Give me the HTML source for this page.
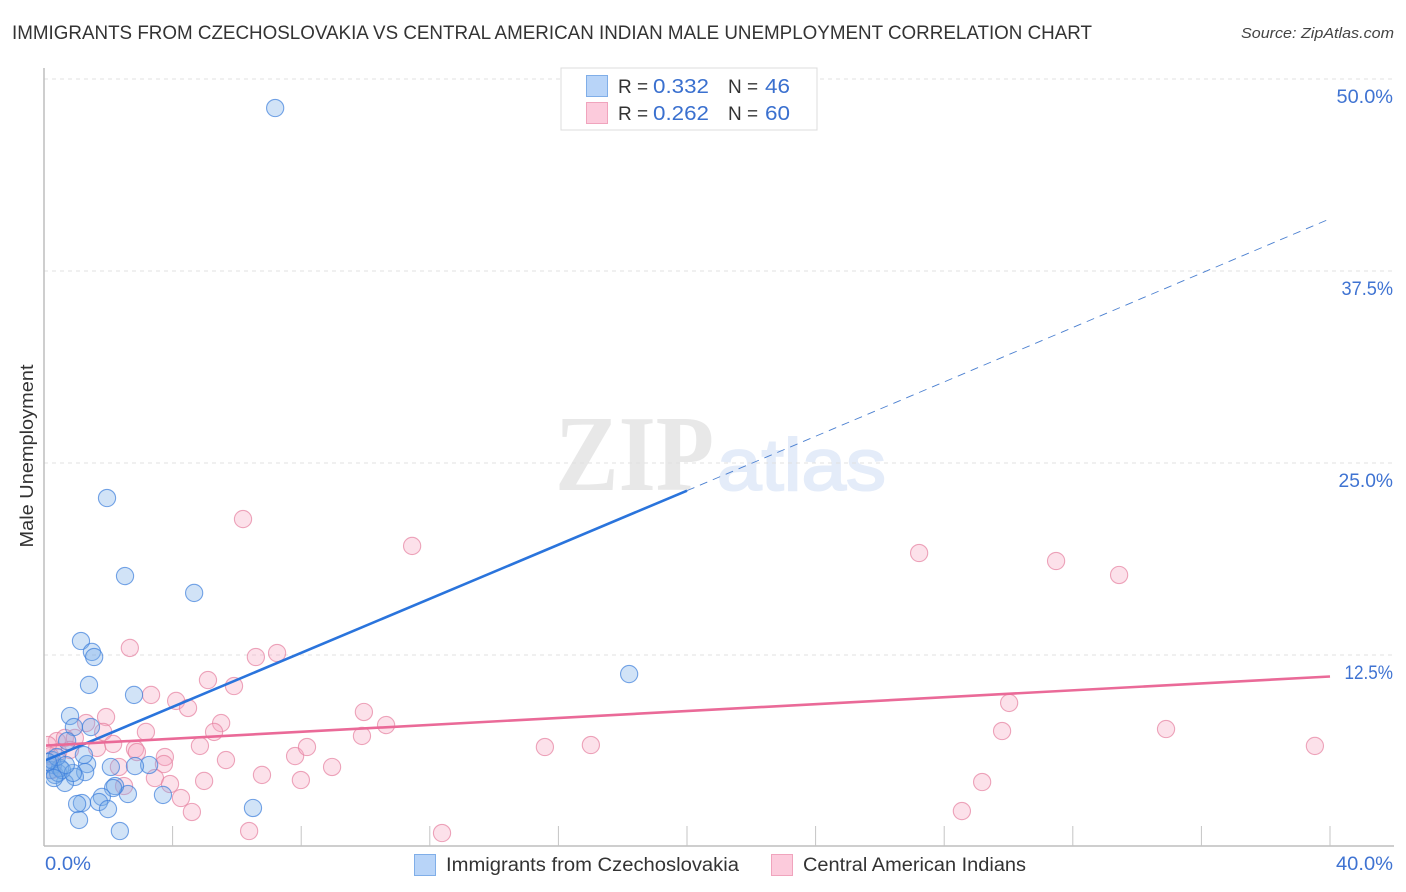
<!DOCTYPE html>
<html lang="en">
<head>
<meta charset="utf-8">
<title>Immigrants from Czechoslovakia vs Central American Indian Male Unemployment Correlation Chart</title>
<style>
html,body{margin:0;padding:0;background:#fff;width:1406px;height:892px;overflow:hidden}
svg{display:block;font-family:"Liberation Sans",sans-serif}
</style>
</head>
<body>
<svg id="chart" width="1406" height="892" viewBox="0 0 1406 892" xmlns="http://www.w3.org/2000/svg">
  <defs>
    <clipPath id="plotClip"><rect x="46" y="60" width="1348" height="786"/></clipPath>
  </defs>
  <text x="12" y="39" font-size="19" fill="#333" textLength="1080" lengthAdjust="spacingAndGlyphs">IMMIGRANTS FROM CZECHOSLOVAKIA VS CENTRAL AMERICAN INDIAN MALE UNEMPLOYMENT CORRELATION CHART</text>
  <text x="1394" y="38" font-size="15" font-style="italic" fill="#444" text-anchor="end" textLength="153" lengthAdjust="spacingAndGlyphs">Source: ZipAtlas.com</text>

  <g>
    <text x="555" y="490" font-family="'Liberation Serif',serif" font-weight="bold" font-size="108" fill="#e8e8e8" textLength="159" lengthAdjust="spacingAndGlyphs">ZIP</text>
    <text x="717" y="490" font-size="73" fill="#e4ecf9" stroke="#e4ecf9" stroke-width="2" textLength="169" lengthAdjust="spacingAndGlyphs">atlas</text>
  </g>

  <g id="grid"></g>
  <g id="axes"></g>
  <g id="pinkPoints" clip-path="url(#plotClip)"></g>
  <g id="bluePoints" clip-path="url(#plotClip)"></g>
  <g id="trends" clip-path="url(#plotClip)"></g>
  <g id="labels"></g>

  <text transform="translate(33,456) rotate(-90)" font-size="18.5" fill="#333" text-anchor="middle" textLength="183" lengthAdjust="spacingAndGlyphs">Male Unemployment</text>

  <g>
    <rect x="561" y="68" width="256" height="62" fill="#fff" stroke="#dcdcdc"/>
    <rect x="586.5" y="75.5" width="21" height="21" fill="#b8d4f8" stroke="#80aee8"/>
    <rect x="586.5" y="102.5" width="21" height="21" fill="#fccbdc" stroke="#f0a4bd"/>
    <g font-size="20">
      <text x="618" y="93" fill="#333" font-size="19">R =</text>
      <text x="653" y="93" fill="#3a70cf" textLength="56" lengthAdjust="spacingAndGlyphs">0.332</text>
      <text x="728" y="93" fill="#333" font-size="19">N =</text>
      <text x="765" y="93" fill="#3a70cf" textLength="25" lengthAdjust="spacingAndGlyphs">46</text>
      <text x="618" y="120" fill="#333" font-size="19">R =</text>
      <text x="653" y="120" fill="#3a70cf" textLength="56" lengthAdjust="spacingAndGlyphs">0.262</text>
      <text x="728" y="120" fill="#333" font-size="19">N =</text>
      <text x="765" y="120" fill="#3a70cf" textLength="25" lengthAdjust="spacingAndGlyphs">60</text>
    </g>
  </g>

  <g>
    <rect x="414.5" y="854.5" width="21" height="21" fill="#b8d4f8" stroke="#80aee8"/>
    <text x="446" y="871" font-size="19" fill="#333" textLength="293" lengthAdjust="spacingAndGlyphs">Immigrants from Czechoslovakia</text>
    <rect x="771.5" y="854.5" width="21" height="21" fill="#fccbdc" stroke="#f0a4bd"/>
    <text x="803" y="871" font-size="19" fill="#333" textLength="223" lengthAdjust="spacingAndGlyphs">Central American Indians</text>
  </g>
</svg>
<script>
const xTickValues = [0,4,8,12,16,20,24,28,32,36,40];
const yTickValues = [12.5,25,37.5,50];
const yTickLabels = ["12.5%","25.0%","37.5%","50.0%"];
const xEndLabels = ["0.0%","40.0%"];

const blueX = [7.19,1.96,2.52,4.67,1.15,1.49,1.56,1.40,2.80,18.20,0.81,0.93,1.46,0.72,6.50,3.70,3.27,2.83,2.08,1.34,1.28,0.96,0.65,2.61,2.21,2.15,1.80,1.71,1.99,1.18,1.03,1.09,2.36,1.24,0.19,0.28,0.34,0.44,0.50,0.25,0.56,0.40,0.90,0.12,0.31,0.68];
const blueY = [48.11,22.72,17.64,16.54,13.41,12.70,12.37,10.55,9.90,11.26,8.53,7.81,7.81,6.90,2.54,3.39,5.34,5.27,5.21,5.40,4.88,4.56,4.17,3.45,3.97,3.84,3.26,2.93,2.47,2.86,2.80,1.76,1.04,5.99,5.01,5.34,4.69,4.82,5.14,5.66,5.01,5.86,4.82,5.53,4.49,5.34];

const pinkX = [2.67,6.59,7.25,5.10,5.91,3.33,4.11,4.48,5.51,5.29,1.93,1.31,1.84,3.17,4.85,2.15,1.65,2.83,2.89,3.76,3.73,5.66,7.81,8.18,8.96,6.78,7.99,4.98,2.33,3.45,3.92,2.49,4.26,4.60,6.38,6.19,11.45,27.22,31.48,33.44,30.02,34.90,29.80,39.53,17.01,15.58,10.64,9.95,9.89,29.18,28.55,12.38,0.40,0.65,0.96,0.44,0.19,0.25,0.12,0.81];
const pinkY = [12.96,12.37,12.63,10.87,10.48,9.90,9.51,9.05,8.07,7.49,8.46,8.07,7.49,7.49,6.58,6.71,6.45,6.38,6.18,5.86,5.40,5.66,5.92,6.51,5.21,4.69,4.36,4.30,5.21,4.49,4.10,3.97,3.19,2.28,1.04,21.35,19.60,19.14,18.62,17.71,9.38,7.68,7.55,6.58,6.64,6.51,7.94,8.79,7.23,4.23,2.34,0.91,6.90,7.10,7.10,6.18,5.92,5.01,6.64,6.32];

const blueTrendX = [0,20,40];
const blueTrendY = [5.6,23.2,40.9];
const pinkTrendX = [0,40];
const pinkTrendY = [6.6,11.1];

const NS = "http://www.w3.org/2000/svg";
function xScale(v){ return 44 + v * (1330 - 44) / 40; }
function yScale(v){ return 847 - v * (847 - 79) / 50; }
function make(tag, attrs, parent){
  const el = document.createElementNS(NS, tag);
  for (const k in attrs) el.setAttribute(k, attrs[k]);
  parent.appendChild(el);
  return el;
}
/* The reference label face has proportional digits; fit the installed font to it. */
const glyphWidth = {"0":12.5,"1":6.5,"2":10.5,"3":10.5,"4":11,"5":10.5,"6":11,"7":9.5,"8":11,"9":11,".":5,"%":16};
function labelWidth(s){
  let w = 0;
  for (const ch of s) w += glyphWidth[ch] || 10.5;
  return w;
}

const grid = document.getElementById("grid");
const axes = document.getElementById("axes");
const labels = document.getElementById("labels");
const trends = document.getElementById("trends");

yTickValues.forEach(function(v){
  const y = yScale(v);
  const el = make("line", {x1:44, x2:1394, y1:y, y2:y, stroke:"#e0e0e0", "stroke-width":1, "stroke-dasharray":"4 4"}, grid);
  
  
});

const yAxisLine = make("line", {x1:44, x2:44, y1:68, y2:846, stroke:"#bdbdbd", "stroke-width":1.5}, axes);


const xAxisLine = make("line", {x1:44, x2:1394, y1:846, y2:846, stroke:"#bdbdbd", "stroke-width":1.5}, axes);



xTickValues.slice(1).forEach(function(v){
  const x = xScale(v);
  const el = make("line", {x1:x, x2:x, y1:826, y2:846, stroke:"#c4c4c4", "stroke-width":1}, axes);
  
  
});

function drawPoints(xs, ys, group, fill, stroke, strokeOpacity, name){
  xs.forEach(function(v, i){
    const c = make("circle", {cx:xScale(v), cy:yScale(ys[i]), r:8.6, fill:fill, "fill-opacity":0.34, stroke:stroke, "stroke-opacity":strokeOpacity, "stroke-width":1.1}, group);
    
    
  });
}
drawPoints(pinkX, pinkY, document.getElementById("pinkPoints"), "#f6a8c0", "#e6809f", 0.7, "pink-point");
drawPoints(blueX, blueY, document.getElementById("bluePoints"), "#79ade9", "#3d7fdc", 0.7, "blue-point");

const blueSolid = make("line", {x1:xScale(blueTrendX[0]), y1:yScale(blueTrendY[0]), x2:xScale(blueTrendX[1]), y2:yScale(blueTrendY[1]), stroke:"#2a74dc", "stroke-width":2.6}, trends);


const blueDash = make("line", {x1:xScale(blueTrendX[1]), y1:yScale(blueTrendY[1]), x2:xScale(blueTrendX[2]), y2:yScale(blueTrendY[2]), stroke:"#4a7fd0", "stroke-width":0.9, "stroke-dasharray":"8 6"}, trends);


const pinkLine = make("line", {x1:xScale(pinkTrendX[0]), y1:yScale(pinkTrendY[0]), x2:xScale(pinkTrendX[1]), y2:yScale(pinkTrendY[1]), stroke:"#ea6a98", "stroke-width":2.6}, trends);



yTickValues.forEach(function(v, i){
  const t = make("text", {x:1393, y:yScale(v)+24, "text-anchor":"end", "font-size":19.5, fill:"#3f73d2", textLength:labelWidth(yTickLabels[i]), lengthAdjust:"spacingAndGlyphs"}, labels);
  t.textContent = yTickLabels[i];
  
  
});
const x0Label = make("text", {x:45, y:870, "font-size":19.5, fill:"#3f73d2", textLength:labelWidth(xEndLabels[0]), lengthAdjust:"spacingAndGlyphs"}, labels);
x0Label.textContent = xEndLabels[0];


const x1Label = make("text", {x:1393, y:870, "text-anchor":"end", "font-size":19.5, fill:"#3f73d2", textLength:labelWidth(xEndLabels[1]), lengthAdjust:"spacingAndGlyphs"}, labels);
x1Label.textContent = xEndLabels[1];


</script>
</body>
</html>
